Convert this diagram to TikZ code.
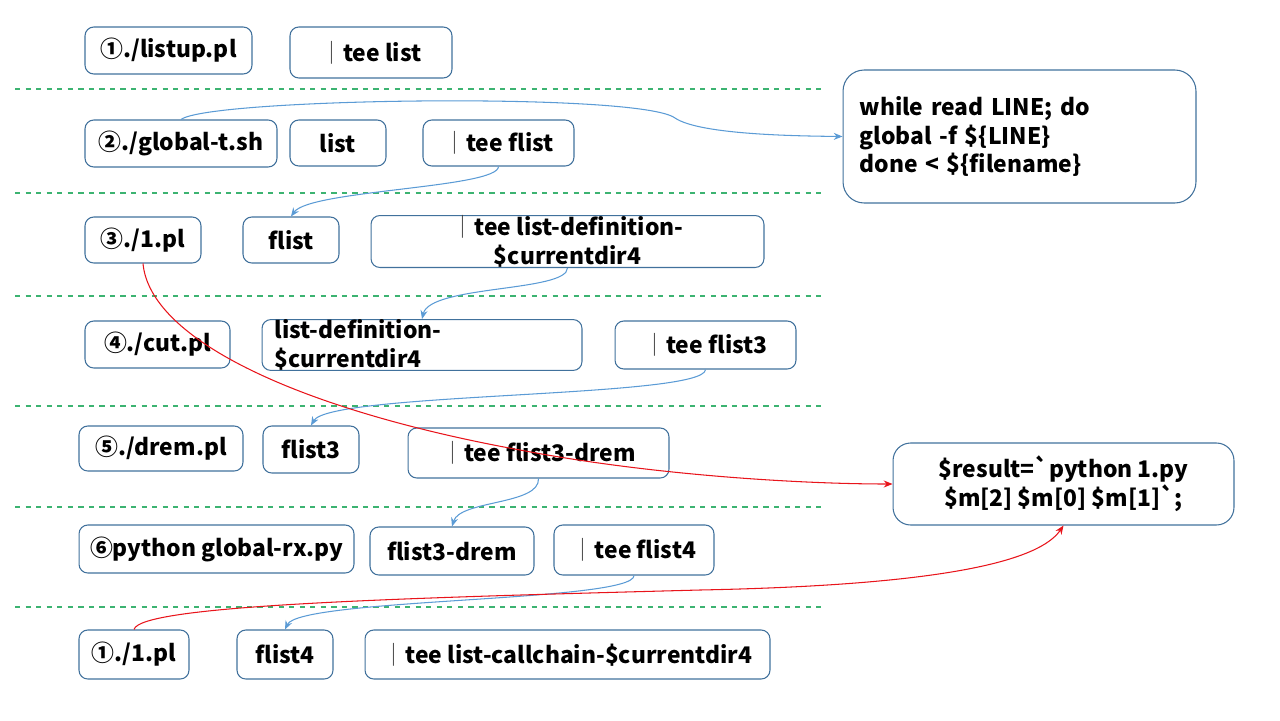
\documentclass[tikz,border=0pt]{standalone}
\usepackage{fontspec}
\setmainfont{Noto Sans CJK JP}
\usetikzlibrary{arrows.meta}
\newcommand\vbar{{\mdseries\color{darkgray}｜}}

\begin{document}
\begin{tikzpicture}[x=0.02cm,y=-0.02cm,
  cmd/.style={draw=boxblue,rounded corners=5pt,line width=0.6pt,inner sep=2pt,font=\bfseries\fontsize{13}{16.5}\selectfont},
  sep/.style={draw=sepgreen,dashed,line width=0.6pt},
  pass/.style={draw=arrblue,line width=0.6pt,-{Stealth[length=5pt,width=4pt]}},
  call/.style={draw=arrred,line width=0.6pt,-{Stealth[length=5pt,width=4pt]}}]
\definecolor{boxblue}{HTML}{41719C}
\definecolor{sepgreen}{HTML}{3CB371}
\definecolor{arrblue}{HTML}{5B9BD5}
\definecolor{arrred}{HTML}{E8141B}
\useasboundingbox (0,0) rectangle (1280,720);
\foreach \y in {89,193,296,406,507,607}
  \draw [sep] (15,\y) -- (825,\y);
\node [cmd,minimum width=3.34cm,minimum height=0.94cm] (listup) at (168.5,50.5) {①./listup.pl};
\node [cmd,minimum width=3.24cm,minimum height=1.02cm] (teelist) at (371,52.5) {\vbar tee list};
\node [cmd,minimum width=3.84cm,minimum height=0.94cm] (globalt) at (181,143.5) {②./global-t.sh};
\node [cmd,minimum width=1.92cm,minimum height=0.92cm] (list) at (338,143) {list};
\node [cmd,minimum width=3.02cm,minimum height=0.92cm] (teeflist) at (498.5,143) {\vbar tee flist};
\node [cmd,minimum width=7.06cm,minimum height=2.66cm,rounded corners=12pt,align=left,text width=6.4cm] (whileloop) at (1019.5,136.5) {while read LINE; do\\global -f \$\{LINE\}\\done < \$\{filename\}};
\node [cmd,minimum width=2.32cm,minimum height=0.92cm] (onepl) at (143,240) {③./1.pl};
\node [cmd,minimum width=1.92cm,minimum height=0.92cm] (flist) at (291,240) {flist};
\node [cmd,minimum width=7.86cm,minimum height=0.90cm,align=center,inner sep=0pt] (teelistdef) at (567.5,241.5) {\vbar tee list-definition-\\\$currentdir4};
\node [cmd,minimum width=2.90cm,minimum height=0.94cm] (cutpl) at (157.5,344.5) {④./cut.pl};
\node [cmd,minimum width=6.40cm,minimum height=1.00cm,align=left,text width=5.9cm,inner sep=0pt] (listdef) at (422,345) {list-definition-\\\$currentdir4};
\node [cmd,minimum width=3.62cm,minimum height=0.96cm] (teeflist3) at (705.5,345) {\vbar tee flist3};
\node [cmd,minimum width=3.28cm,minimum height=0.90cm] (drempl) at (161,448.5) {⑤./drem.pl};
\node [cmd,minimum width=1.92cm,minimum height=0.94cm] (flist3) at (311,449.5) {flist3};
\node [cmd,minimum width=5.22cm,minimum height=1.00cm] (teedrem) at (538.5,453) {\vbar tee flist3-drem};
\node [cmd,minimum width=5.50cm,minimum height=0.96cm] (pyrx) at (216.5,549) {⑥python global-rx.py};
\node [cmd,minimum width=3.28cm,minimum height=0.96cm] (flistdrem) at (452,551) {flist3-drem};
\node [cmd,minimum width=3.20cm,minimum height=1.00cm] (teeflist4) at (634,550) {\vbar tee flist4};
\node [cmd,minimum width=2.20cm,minimum height=0.98cm] (onepl2) at (134,654.5) {①./1.pl};
\node [cmd,minimum width=1.92cm,minimum height=0.98cm] (flist4) at (285,654.5) {flist4};
\node [cmd,minimum width=8.10cm,minimum height=0.98cm] (teecall) at (567.5,654.5) {\vbar tee list-callchain-\$currentdir4};
\node [cmd,minimum width=6.82cm,minimum height=1.64cm,rounded corners=10pt,align=center] (result) at (1063.5,484) {\$result=\textasciigrave python 1.py\\\$m[2] \$m[0] \$m[1]\textasciigrave;};
\draw [pass] (globalt.north) .. controls (210,98) and (640,92) .. (675,118) .. controls (700,135) and (800,136) .. (whileloop.west);
\draw [pass] (teeflist.south) .. controls (498,188) and (310,190) .. (flist.north);
\draw [pass] (teelistdef.south) .. controls (567,292) and (430,285) .. (listdef.north);
\draw [pass] (teeflist3.south) .. controls (705,398) and (330,392) .. (flist3.north);
\draw [pass] (teedrem.south) .. controls (540,505) and (460,500) .. (flistdrem.north);
\draw [pass] (teeflist4.south) .. controls (634,602) and (300,598) .. (flist4.north);
\draw [call] (onepl.south) .. controls (150,340) and (300,410) .. (520,450) .. controls (650,475) and (800,484) .. (result.west);
\draw [call] (onepl2.north) .. controls (140,605) and (400,598) .. (700,590) .. controls (950,585) and (1040,560) .. (result.south);
\end{tikzpicture}
\end{document}
